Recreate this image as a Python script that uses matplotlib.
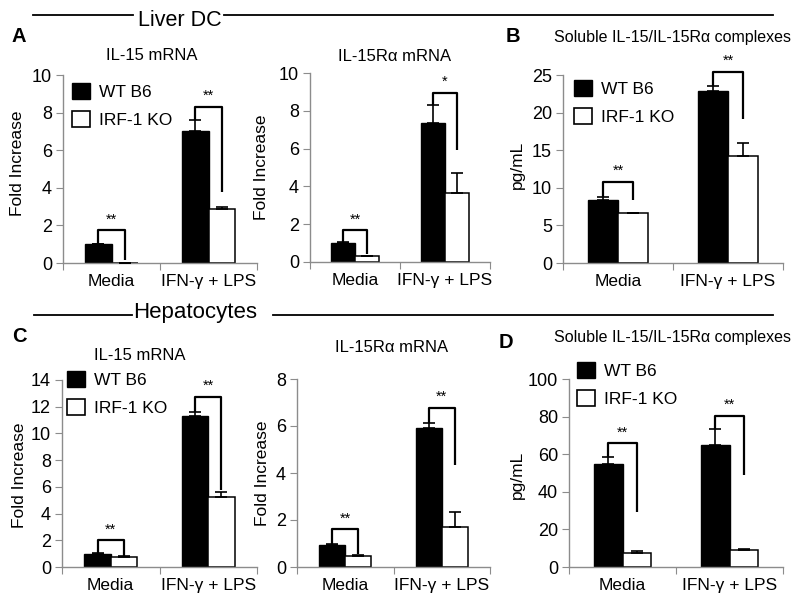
import matplotlib
matplotlib.use('Agg')
import matplotlib.pyplot as plt
from matplotlib.lines import Line2D
from matplotlib.patches import Patch

plt.rcParams['font.family'] = ['Liberation Sans', 'DejaVu Sans']

categories = ['Media', 'IFN-γ + LPS']
groups = ['WT B6', 'IRF-1 KO']

# Liver DC - IL-15 mRNA
a1_wt = [1.0, 7.0]
a1_wt_err = [0.03, 0.6]
a1_ko = [0.02, 2.85]
a1_ko_err = [0.0, 0.12]
a1_sig = ['**', '**']
a1_br_top = [1.75, 8.3]
a1_br_end = [0.15, 3.8]

# Liver DC - IL-15Ra mRNA
a2_wt = [1.0, 7.35]
a2_wt_err = [0.05, 0.95]
a2_ko = [0.3, 3.65]
a2_ko_err = [0.04, 1.05]
a2_sig = ['**', '*']
a2_br_top = [1.68, 8.95]
a2_br_end = [0.4, 5.95]

# Liver DC - soluble complexes (pg/mL)
b_wt = [8.4, 22.9]
b_wt_err = [0.35, 0.7]
b_ko = [6.6, 14.2]
b_ko_err = [0.0, 1.7]
b_sig = ['**', '**']
b_br_top = [10.8, 25.4]
b_br_end = [8.4, 19.2]

# Hepatocytes - IL-15 mRNA
c1_wt = [1.0, 11.3]
c1_wt_err = [0.05, 0.3]
c1_ko = [0.75, 5.25]
c1_ko_err = [0.05, 0.35]
c1_sig = ['**', '**']
c1_br_top = [2.0, 12.75]
c1_br_end = [0.8, 5.75]

# Hepatocytes - IL-15Ra mRNA
c2_wt = [0.95, 5.9]
c2_wt_err = [0.03, 0.22]
c2_ko = [0.45, 1.72]
c2_ko_err = [0.08, 0.6]
c2_sig = ['**', '**']
c2_br_top = [1.6, 6.77]
c2_br_end = [0.55, 4.35]

# Hepatocytes - soluble complexes (pg/mL)
d_wt = [55, 65]
d_wt_err = [3.5, 8.5]
d_ko = [7.5, 8.8]
d_ko_err = [1.0, 0.8]
d_sig = ['**', '**']
d_br_top = [65.8, 80.4]
d_br_end = [29.4, 49]

W, H = 800, 604
fig = plt.figure(figsize=(W / 100, H / 100), dpi=100)


def px_rect(x0, x1, ytop, ybot):
    return [x0 / W, 1 - ybot / H, (x1 - x0) / W, (ybot - ytop) / H]


def ftext(x, y, s, **kw):
    fig.text(x / W, 1 - y / H, s, **kw)


GRAY = '#8c8c8c'


def panel(rect, wt, wt_err, ko, ko_err, sig, br_top, br_end, ymax, ystep,
          ylabel, ylab_x, ylab_y):
    ax = fig.add_axes(rect)
    bw = 0.27
    xs = [0.5, 1.5]
    xw = [x - bw / 2 for x in xs]
    xk = [x + bw / 2 for x in xs]
    ax.bar(xw, wt, width=bw, color='black', edgecolor='black', linewidth=1, zorder=2)
    ax.bar(xk, ko, width=bw, color='white', edgecolor='black', linewidth=1.1, zorder=2)
    ax.errorbar(xw, wt, yerr=[[0] * len(wt), wt_err], fmt='none', ecolor='black',
                elinewidth=1.2, capsize=4.5, capthick=1.2, zorder=3)
    ax.errorbar(xk, ko, yerr=[[0] * len(ko), ko_err], fmt='none', ecolor='black',
                elinewidth=1.2, capsize=4.5, capthick=1.2, zorder=3)
    for i in range(len(xs)):
        y0 = wt[i] + wt_err[i]
        ax.plot([xw[i], xw[i], xk[i], xk[i]], [y0, br_top[i], br_top[i], br_end[i]],
                color='black', lw=1.6, zorder=4, clip_on=False, solid_capstyle='butt')
        ax.text(xs[i], br_top[i] + ymax * 0.02, sig[i], ha='center', va='bottom',
                fontsize=10.5)
    ax.set_xlim(0, 2)
    ax.set_ylim(0, ymax)
    ax.set_yticks([ystep * k for k in range(int(round(ymax / ystep)) + 1)])
    ax.set_xticks([0, 1, 2])
    ax.set_xticklabels([])
    ax.set_xticks(xs, minor=True)
    ax.set_xticklabels(categories, minor=True)
    ax.tick_params(axis='x', which='major', length=5, color=GRAY, direction='out')
    ax.tick_params(axis='x', which='minor', length=0, pad=8, labelsize=12.5)
    ax.tick_params(axis='y', length=5, color=GRAY, direction='out', pad=3,
                   labelsize=13)
    for s in ['top', 'right']:
        ax.spines[s].set_visible(False)
    for s in ['left', 'bottom']:
        ax.spines[s].set_color(GRAY)
        ax.spines[s].set_linewidth(1)
    ax.set_ylabel(ylabel, fontsize=12.5)
    ax.yaxis.label.set_verticalalignment('center')
    ax.yaxis.set_label_coords(ylab_x, ylab_y)
    return ax


def legend(ax, x, y):
    handles = [Patch(facecolor='black', edgecolor='black', linewidth=1),
               Patch(facecolor='white', edgecolor='black', linewidth=1.2)]
    ax.legend(handles, groups, loc='upper left', bbox_to_anchor=(x / W, 1 - y / H),
              bbox_transform=fig.transFigure, frameon=False, fontsize=12.5,
              handlelength=1.05, handleheight=1.05, handletextpad=0.5,
              labelspacing=0.65, borderaxespad=0, borderpad=0)


axA1 = panel(px_rect(63, 257, 75, 263), a1_wt, a1_wt_err, a1_ko, a1_ko_err, a1_sig,
             a1_br_top, a1_br_end, 10, 2, 'Fold Increase', -0.232, 0.53)
axA2 = panel(px_rect(310, 490, 73, 262), a2_wt, a2_wt_err, a2_ko, a2_ko_err, a2_sig,
             a2_br_top, a2_br_end, 10, 2, 'Fold Increase', -0.267, 0.5)
axB = panel(px_rect(563, 783, 75, 263), b_wt, b_wt_err, b_ko, b_ko_err, b_sig,
            b_br_top, b_br_end, 25, 5, 'pg/mL', -0.205, 0.52)
axC1 = panel(px_rect(62, 257, 380, 567), c1_wt, c1_wt_err, c1_ko, c1_ko_err, c1_sig,
             c1_br_top, c1_br_end, 14, 2, 'Fold Increase', -0.22, 0.49)
axC2 = panel(px_rect(297, 490, 379, 567), c2_wt, c2_wt_err, c2_ko, c2_ko_err, c2_sig,
             c2_br_top, c2_br_end, 8, 2, 'Fold Increase', -0.18, 0.5)
axD = panel(px_rect(569, 783, 379, 567), d_wt, d_wt_err, d_ko, d_ko_err, d_sig,
            d_br_top, d_br_end, 100, 20, 'pg/mL', -0.243, 0.49)

legend(axA1, 72, 83)
legend(axB, 574, 80)
legend(axC1, 67, 371)
legend(axD, 577, 362)

# titles
ftext(152, 60, 'IL-15 mRNA', ha='center', va='baseline', fontsize=12)
ftext(395, 61, 'IL-15Rα mRNA', ha='center', va='baseline', fontsize=12)
ftext(672, 42, 'Soluble IL-15/IL-15Rα complexes', ha='center', va='baseline', fontsize=11.5)
ftext(140, 360, 'IL-15 mRNA', ha='center', va='baseline', fontsize=12)
ftext(392, 352, 'IL-15Rα mRNA', ha='center', va='baseline', fontsize=12)
ftext(672, 342, 'Soluble IL-15/IL-15Rα complexes', ha='center', va='baseline', fontsize=11.5)

# panel letters
ftext(12, 42, 'A', fontsize=14.5, fontweight='bold', va='baseline')
ftext(506, 42, 'B', fontsize=14.5, fontweight='bold', va='baseline')
ftext(12, 342, 'C', fontsize=14.5, fontweight='bold', va='baseline')
ftext(499, 348, 'D', fontsize=14.5, fontweight='bold', va='baseline')

# section headers
ftext(180, 26, 'Liver DC', ha='center', va='baseline', fontsize=15.5)
fig.add_artist(Line2D([33 / W, 133 / W], [1 - 15 / H] * 2, color='black', lw=1.3))
fig.add_artist(Line2D([224 / W, 773 / W], [1 - 15 / H] * 2, color='black', lw=1.3))
ftext(195, 318, 'Hepatocytes', ha='center', va='baseline', fontsize=16)
fig.add_artist(Line2D([34 / W, 132 / W], [1 - 315 / H] * 2, color='black', lw=1.3))
fig.add_artist(Line2D([273 / W, 773 / W], [1 - 315 / H] * 2, color='black', lw=1.3))

fig.savefig('out.png', dpi=100)
